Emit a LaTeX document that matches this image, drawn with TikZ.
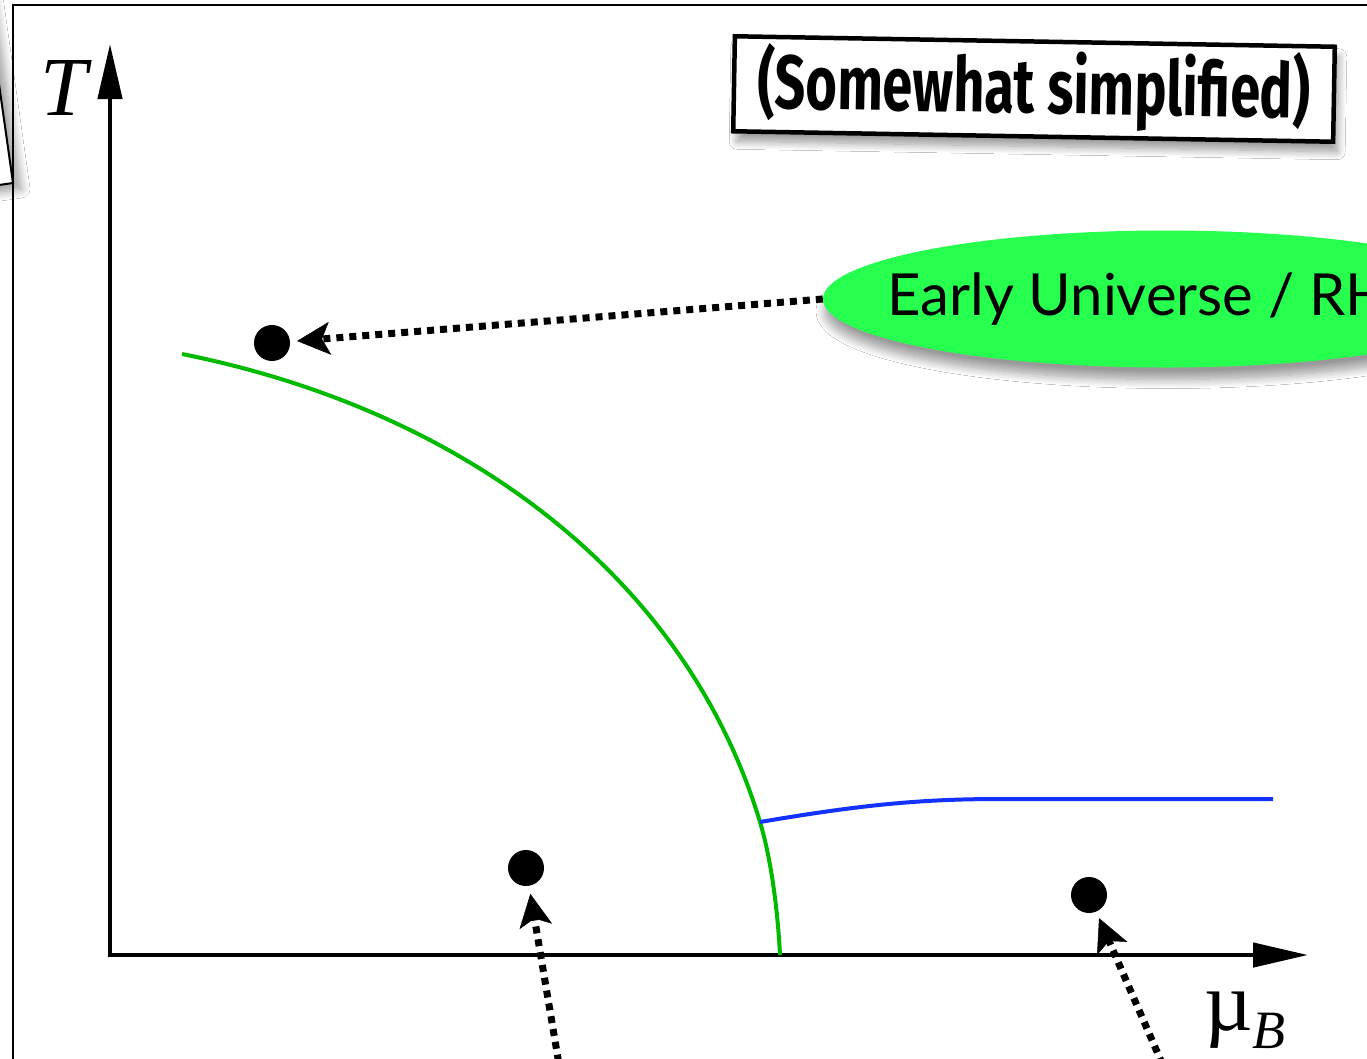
\documentclass[tikz,border=0pt]{standalone}
\usepackage{fontspec}
\usepackage{tikz}
\usetikzlibrary{positioning,arrows.meta,shapes.geometric,shadows.blur}
\newfontfamily\gillfont{Lato}
\newfontfamily\comicfont{Fira Sans}[FakeStretch=0.71]
\newfontfamily\timesfont{Liberation Serif}
\definecolor{phasegreen}{RGB}{0,186,0}
\definecolor{phaseblue}{RGB}{20,50,255}
\definecolor{blobgreen}{RGB}{38,255,78}

\begin{document}
\begin{tikzpicture}[x=1pt,y=-1pt,
  dot/.style={circle,fill=black,minimum size=36pt,inner sep=0pt},
  axis/.style={line width=4.5pt,{Triangle[length=55pt,width=24pt,black]}-{Triangle[length=55pt,width=24pt,black]}},
  dotarrow/.style={line width=7pt,dash pattern=on 7pt off 6pt,-{Stealth[length=33pt,width=33pt,inset=8pt,line width=0.5pt,black]}},
  blob/.style={ellipse,fill=blobgreen,minimum width=686pt,minimum height=137pt,inner ysep=0pt,inner xsep=-150pt,
    blur shadow={shadow xshift=2pt,shadow yshift=-12pt,shadow blur radius=9pt,shadow blur steps=12},
    font=\gillfont\fontsize{58}{58}\selectfont},
  note/.style={draw,line width=4.5pt,fill=white,rotate=-1,minimum width=600pt,minimum height=95pt,inner sep=0pt,
    blur shadow={shadow xshift=4pt,shadow yshift=-10pt,shadow blur radius=8pt,shadow blur steps=12},
    font=\comicfont\bfseries\fontsize{76}{76}\selectfont},
  axlabel/.style={font=\timesfont\fontsize{84}{84}\selectfont,inner sep=0pt}]
  \useasboundingbox (0,0) rectangle (1367,1058);
  \clip (0,0) rectangle (1367,1058);
  \fill[white] (0,0) rectangle (1367,1058);
  \draw[fill=white,line width=2pt,blur shadow={shadow xshift=8pt,shadow yshift=-6pt,shadow blur radius=9pt,shadow blur steps=12}]
    (13,183) -- (-15,-15) -- (-213,13) -- (-185,211) -- cycle;
  \draw[line width=2.5pt] (13,5) rectangle (1420,1120);
  \coordinate (o) at (110,955);
  \coordinate (ttip) at (110,44);
  \coordinate (mutip) at (1308,955);
  \draw[axis] (ttip) -- (o) -- (mutip);
  \node[axlabel] (tlab) at (64,88) {\itshape T};
  \node[axlabel,anchor=base west] (mulab) at (1204,1030) {µ\raisebox{-0.22em}{\fontsize{54}{54}\selectfont\itshape B}};
  \coordinate (tc) at (760,822);
  \draw[phasegreen,line width=4pt] (182,354) .. controls (472,412) and (688,583) .. (tc)
    .. controls (772,862) and (778,915) .. (780,955);
  \draw[phaseblue,line width=4pt] (tc) .. controls (860,805) and (920,799) .. (1000,799) -- (1273,799);
  \node[dot] (d1) at (272,343) {};
  \node[dot] (d2) at (526,868) {};
  \node[dot] (d3) at (1089,895) {};
  \coordinate (s2) at (565,1100);
  \coordinate (s3) at (1178,1100);
  \node[blob] (eu) at (1166,299) {Early Universe / RHIC};
  \draw[dotarrow,shorten >=7pt] (eu.west) -- (d1);
  \draw[dotarrow,shorten >=8pt] (s2) -- (d2);
  \draw[dotarrow,shorten >=7pt] (s3) -- (d3);
  \node[note] (simp) at (1034,89) {(Somewhat simplified)};
\end{tikzpicture}
\end{document}
